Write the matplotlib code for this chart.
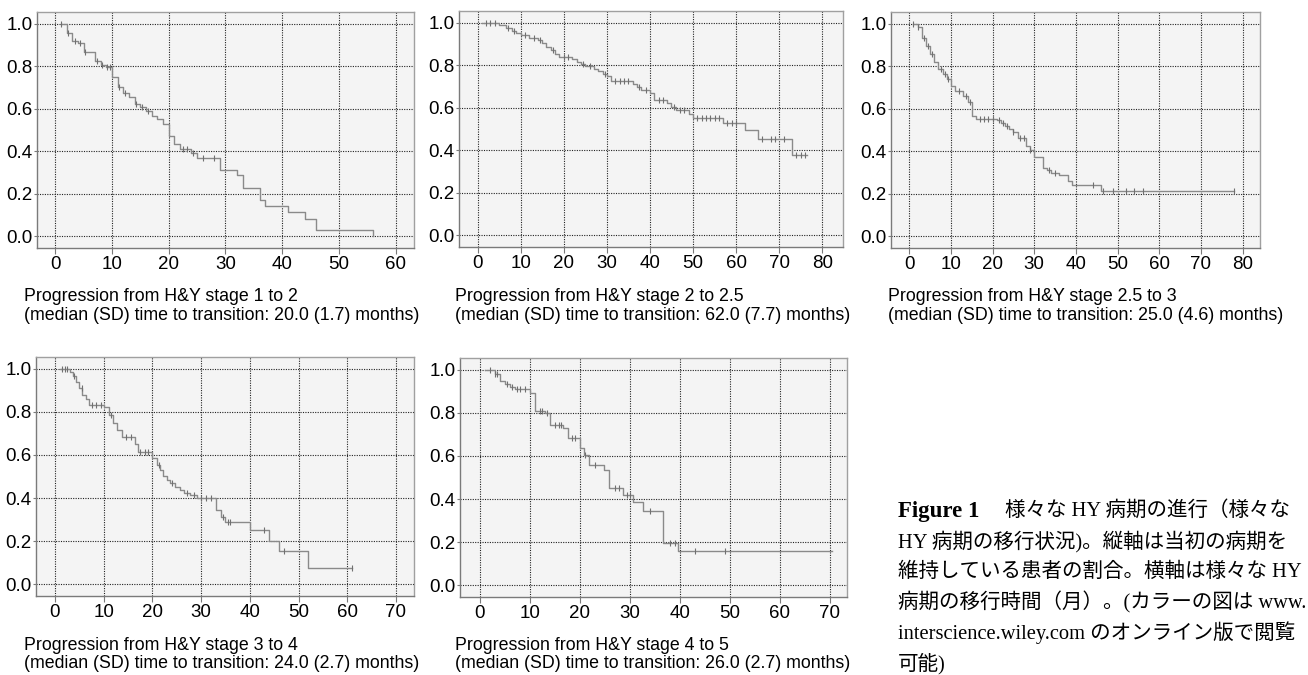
import numpy as np
import matplotlib.pyplot as plt

# Kaplan-Meier style curves (time in months, fraction still in stage)
t1 = [1, 2, 3, 4, 5, 7, 8, 9, 10, 11, 12, 13, 14, 15, 16, 17, 18, 19, 20, 21, 22, 24, 25, 29, 32, 33, 36, 37, 41, 44, 46, 56]
s1 = [1.0, 0.955, 0.92, 0.91, 0.865, 0.825, 0.805, 0.795, 0.75, 0.703, 0.672, 0.656, 0.622, 0.606, 0.589, 0.567, 0.55, 0.53,
      0.47, 0.433, 0.411, 0.39, 0.37, 0.312, 0.286, 0.228, 0.172, 0.144, 0.116, 0.083, 0.031, 0.0]
c1 = [1, 2.3, 3.5, 4.3, 5.3, 7.3, 8.3, 9.2, 9.6, 11.3, 12.3, 14.3, 15.3, 16.4, 22.5, 23.3, 24.3, 26, 28]
end1 = 56

t2 = [1, 5, 6.5, 8, 9, 10, 12, 14, 15, 16, 17, 18, 19, 22, 23, 24, 25, 27, 28, 29, 30, 31, 36, 37, 38, 40, 41, 44, 45, 46,
      49, 50, 57, 62, 65, 73]
s2 = [1.0, 0.99, 0.975, 0.96, 0.95, 0.94, 0.926, 0.918, 0.906, 0.887, 0.871, 0.855, 0.84, 0.827, 0.816, 0.805, 0.795, 0.781,
      0.772, 0.761, 0.75, 0.725, 0.714, 0.698, 0.682, 0.667, 0.635, 0.62, 0.604, 0.588, 0.572, 0.553, 0.53, 0.494, 0.454, 0.376]
c2 = [2, 3, 4, 7, 8.5, 11, 13, 14.5, 17.5, 20, 21, 24.5, 26, 29.5, 32, 33, 34, 35, 37.5, 39, 42, 43, 45.5, 47, 48, 51, 52,
      53, 54, 55, 56, 58, 59, 60, 66, 68, 69, 71, 74, 75, 76]
end2 = 76.5

t3 = [1, 2, 3, 4, 5, 6, 7, 8, 9, 10, 11, 13, 14, 15, 16, 21, 22, 23, 24, 25, 26, 28, 29, 30, 32, 33, 34, 36, 38, 39, 46]
s3 = [1.0, 0.984, 0.934, 0.895, 0.859, 0.819, 0.788, 0.764, 0.738, 0.708, 0.683, 0.659, 0.633, 0.568, 0.553, 0.545, 0.534,
      0.521, 0.505, 0.489, 0.463, 0.427, 0.408, 0.375, 0.322, 0.31, 0.3, 0.286, 0.262, 0.239, 0.212]
c3 = [1, 2, 3.5, 4.5, 5.5, 7.5, 8.5, 9.3, 12, 13.5, 14.5, 17, 18, 19, 20, 21.5, 22.5, 23.5, 25, 26.5, 27.5, 29, 33.5, 35,
      44, 46.5, 49, 52, 54, 56, 78]
end3 = 78

t4 = [1, 3, 3.6, 4.4, 5, 5.6, 6.3, 7, 10, 11, 12, 12.7, 13.7, 16.4, 17, 20, 21, 21.6, 22.2, 22.9, 23.6, 24.6, 25.7, 26.4,
      27.7, 29.1, 33, 34, 35, 40, 44, 46, 52]
s4 = [1.0, 0.984, 0.967, 0.941, 0.91, 0.88, 0.86, 0.833, 0.822, 0.786, 0.747, 0.716, 0.682, 0.65, 0.616, 0.584, 0.553, 0.53,
      0.504, 0.484, 0.471, 0.453, 0.437, 0.422, 0.414, 0.398, 0.344, 0.313, 0.287, 0.251, 0.202, 0.155, 0.076]
c4 = [1.5, 2, 2.5, 4, 5.5, 7.5, 8.5, 9.5, 11.5, 14.5, 15.5, 17.5, 18.5, 19, 21.3, 24, 27, 28.5, 30, 31, 32, 34.5, 35.5, 36,
      43, 47, 61]
end4 = 61

t5 = [1, 3, 4, 5, 6, 7, 10, 11, 13, 14, 16.7, 17.6, 20, 20.8, 21.9, 24.8, 25.9, 28.6, 30.7, 32.7, 36.7, 39.7]
s5 = [1.0, 0.983, 0.948, 0.933, 0.92, 0.909, 0.893, 0.81, 0.799, 0.744, 0.729, 0.682, 0.635, 0.603, 0.56, 0.533, 0.45,
      0.418, 0.384, 0.345, 0.195, 0.157]
c5 = [2, 3, 3.5, 5.5, 6.5, 7.5, 8, 9, 12, 12.5, 13.5, 15, 15.8, 16.3, 18.5, 19, 21, 23, 27, 27.8, 29.5, 30, 34, 38, 39,
      43, 49]
end5 = 70.5

captions = [
    ("Progression from H&Y stage 1 to 2", "(median (SD) time to transition: 20.0 (1.7) months)"),
    ("Progression from H&Y stage 2 to 2.5", "(median (SD) time to transition: 62.0 (7.7) months)"),
    ("Progression from H&Y stage 2.5 to 3", "(median (SD) time to transition: 25.0 (4.6) months)"),
    ("Progression from H&Y stage 3 to 4", "(median (SD) time to transition: 24.0 (2.7) months)"),
    ("Progression from H&Y stage 4 to 5", "(median (SD) time to transition: 26.0 (2.7) months)"),
]

fig_caption = [
    "HY 病期の移行状況)。縦軸は当初の病期を",
    "維持している患者の割合。横軸は様々な HY",
    "病期の移行時間（月）。(カラーの図は www.",
    "interscience.wiley.com のオンライン版で閲覧",
    "可能)",
]

W, H = 1308, 675
fig = plt.figure(figsize=(W / 100, H / 100), dpi=100)
plt.rcParams['font.family'] = ['Liberation Sans', 'DejaVu Sans']

# panel boxes in pixels: left, right, top, bottom
boxes = [(37, 414, 12, 248), (459, 843, 11, 247), (891, 1260, 12, 248),
         (36, 414, 357, 596), (460, 847, 358, 597)]
xlims = [(-3.2, 63.2), (-4.3, 84.8), (-4.4, 84.2), (-3.9, 73.7), (-4.0, 73.5)]
xmax_tick = [60, 80, 80, 70, 70]
cap_pos = [(24, 297), (455, 297), (888, 297), (24, 645), (455, 645)]

data = [(t1, s1, c1, end1), (t2, s2, c2, end2), (t3, s3, c3, end3), (t4, s4, c4, end4), (t5, s5, c5, end5)]

line_col = '#8a8a8a'

for i, (t, s, c, tend) in enumerate(data):
    l, r, top, b = boxes[i]
    ax = fig.add_axes([l / W, 1 - b / H, (r - l) / W, (b - top) / H])
    ax.set_facecolor('#f4f4f4')
    ax.set_xlim(*xlims[i])
    ax.set_ylim(-0.055, 1.055)
    ax.set_xticks(np.arange(0, xmax_tick[i] + 1, 10))
    ax.set_yticks(np.arange(0, 1.01, 0.2))
    ax.set_yticklabels(['0.0', '0.2', '0.4', '0.6', '0.8', '1.0'])
    ax.grid(True, color='#222222', linestyle=(0, (1, 1.2)), linewidth=0.8)
    ax.set_axisbelow(True)
    for sp in ax.spines.values():
        sp.set_color('#a0a0a0')
        sp.set_linewidth(1.0)
    ax.spines['left'].set_color('#7a7a7a')
    ax.spines['bottom'].set_color('#7a7a7a')
    ax.tick_params(axis='both', labelsize=13.5, colors='#7a7a7a', labelcolor='black', width=0.8)
    ax.tick_params(axis='x', length=4, pad=2)
    ax.tick_params(axis='y', length=2, pad=1)

    xs = list(t) + [tend]
    ys = list(s) + [s[-1]]
    ax.step(xs, ys, where='post', color=line_col, linewidth=1.0)
    idx = np.searchsorted(t, c, side='right') - 1
    cy = np.array(s)[idx]
    ax.plot(c, cy, linestyle='none', marker='|', markersize=4, color='#707070', markeredgewidth=0.8)

    cx, cyp = cap_pos[i]
    fig.text(cx / W, 1 - cyp / H, captions[i][0], fontsize=12.8, va='center', ha='left')
    fig.text(cx / W, 1 - (cyp + 18.5) / H, captions[i][1], fontsize=12.8, va='center', ha='left')

# figure caption in Japanese at the lower right
jp = ['Liberation Serif', 'Noto Sans CJK JP']
y0, dy = 511, 30.5
fig.text(898 / W, 1 - y0 / H, "Figure 1", fontsize=16.5, fontweight='bold', family=jp, va='center', ha='left')
fig.text(1005 / W, 1 - y0 / H, "様々な HY 病期の進行（様々な", fontsize=14.8, family=jp, va='center', ha='left')
for k, line in enumerate(fig_caption):
    fig.text(898 / W, 1 - (y0 + dy * (k + 1)) / H, line, fontsize=14.8, family=jp, va='center', ha='left')

fig.savefig('out.png', dpi=100)
